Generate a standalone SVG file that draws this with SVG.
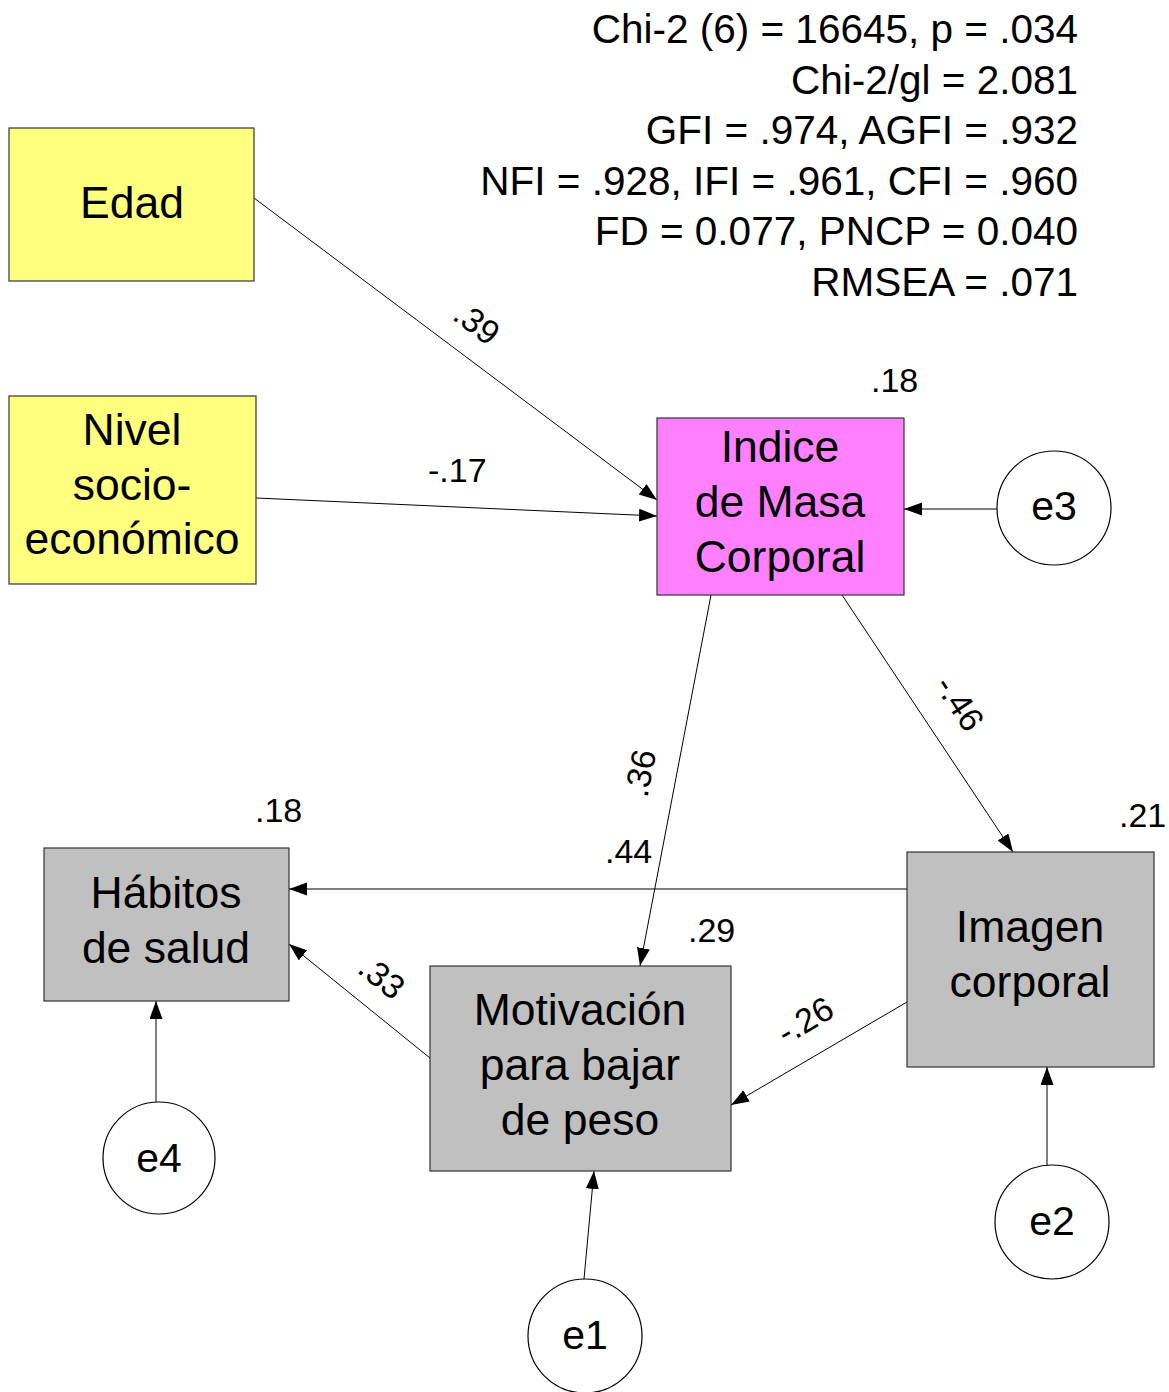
<svg xmlns="http://www.w3.org/2000/svg" width="1169" height="1392" viewBox="0 0 1169 1392">
<style>
  text { font-family: "Liberation Sans", Arial, sans-serif; fill: #000; }
  .fit { font-size: 40.5px; text-anchor: end; }
  .lbl { font-size: 44.5px; text-anchor: middle; }
  .num { font-size: 34px; }
  .numc { font-size: 34px; text-anchor: middle; }
  .err { font-size: 41px; text-anchor: middle; }
  .exo { fill: #FFFF80; stroke: #333; stroke-width: 1.2; }
  .imc { fill: #FF80FF; stroke: #333; stroke-width: 1.2; }
  .endo { fill: #C0C0C0; stroke: #333; stroke-width: 1.2; }
  .errc { fill: #FFFFFF; stroke: #000; stroke-width: 1.2; }
  .conn line { stroke: #000; stroke-width: 1; fill: none; marker-end: url(#arr); }
</style>
<defs>
  <marker id="arr" markerUnits="userSpaceOnUse" markerWidth="19" markerHeight="14" refX="18" refY="6.5" orient="auto">
    <path d="M0,0 L18,6.5 L0,13 z" fill="#000"/>
  </marker>
</defs>
<rect width="1169" height="1392" fill="#FFFFFF"/>

<g id="fit-indices">
  <text class="fit" x="1078" y="43">Chi-2 (6) = 16645, p = .034</text>
  <text class="fit" x="1078" y="94">Chi-2/gl = 2.081</text>
  <text class="fit" x="1078" y="144">GFI = .974, AGFI = .932</text>
  <text class="fit" x="1078" y="195">NFI = .928, IFI = .961, CFI = .960</text>
  <text class="fit" x="1078" y="245">FD = 0.077, PNCP = 0.040</text>
  <text class="fit" x="1078" y="296">RMSEA = .071</text>
</g>

<g class="conn" id="connectors">
  <line x1="254" y1="198" x2="657" y2="500"/>
  <line x1="256" y1="498" x2="657" y2="516"/>
  <line x1="997" y1="509" x2="904" y2="509"/>
  <line x1="711" y1="595" x2="640" y2="966"/>
  <line x1="842" y1="595" x2="1013" y2="852"/>
  <line x1="907" y1="889" x2="289" y2="889"/>
  <line x1="430" y1="1058" x2="289" y2="944"/>
  <line x1="907" y1="1002" x2="731" y2="1105"/>
  <line x1="156" y1="1103" x2="156" y2="1001"/>
  <line x1="584" y1="1279" x2="594" y2="1171"/>
  <line x1="1047" y1="1165" x2="1047" y2="1067"/>
</g>

<g id="path-labels">
  <text class="numc" transform="translate(477,323) rotate(36.8)" x="0" y="12">.39</text>
  <text class="num" x="428" y="482">-.17</text>
  <text class="numc" transform="translate(640,773) rotate(-79)" x="0" y="12">.36</text>
  <text class="numc" transform="translate(960,703) rotate(56.4)" x="0" y="12">-.46</text>
  <text class="numc" transform="translate(382,977) rotate(38.8)" x="0" y="12">.33</text>
  <text class="numc" transform="translate(805,1020) rotate(-30.3)" x="0" y="12">-.26</text>
  <text class="num" x="605" y="863">.44</text>
</g>

<g id="node-edad">
  <rect class="exo" x="9" y="128" width="245" height="153"/>
  <text class="lbl" x="132" y="218">Edad</text>
</g>

<g id="node-nivel">
  <rect class="exo" x="9" y="396" width="247" height="188"/>
  <text class="lbl" x="132" y="445">Nivel</text>
  <text class="lbl" x="132" y="500">socio-</text>
  <text class="lbl" x="132" y="554">económico</text>
</g>

<g id="node-imc">
  <rect class="imc" x="657" y="418" width="247" height="177"/>
  <text class="lbl" x="780" y="462">Indice</text>
  <text class="lbl" x="780" y="517">de Masa</text>
  <text class="lbl" x="780" y="572">Corporal</text>
  <text class="num" x="871" y="392">.18</text>
</g>

<g id="node-e3">
  <circle class="errc" cx="1054" cy="508" r="57"/>
  <text class="err" x="1054" y="520">e3</text>
</g>

<g id="node-habitos">
  <rect class="endo" x="44" y="848" width="245" height="153"/>
  <text class="lbl" x="166" y="908">Hábitos</text>
  <text class="lbl" x="166" y="963">de salud</text>
  <text class="num" x="255" y="822">.18</text>
</g>

<g id="node-motivacion">
  <rect class="endo" x="430" y="966" width="301" height="205"/>
  <text class="lbl" x="580" y="1025">Motivación</text>
  <text class="lbl" x="580" y="1080">para bajar</text>
  <text class="lbl" x="580" y="1135">de peso</text>
  <text class="num" x="688" y="942">.29</text>
</g>

<g id="node-imagen">
  <rect class="endo" x="907" y="852" width="247" height="215"/>
  <text class="lbl" x="1030" y="942">Imagen</text>
  <text class="lbl" x="1030" y="997">corporal</text>
  <text class="num" x="1119" y="827">.21</text>
</g>

<g id="node-e4">
  <circle class="errc" cx="159" cy="1158" r="56"/>
  <text class="err" x="159" y="1172">e4</text>
</g>

<g id="node-e1">
  <circle class="errc" cx="585" cy="1336" r="57"/>
  <text class="err" x="585" y="1349">e1</text>
</g>

<g id="node-e2">
  <circle class="errc" cx="1052" cy="1222" r="57"/>
  <text class="err" x="1052" y="1235">e2</text>
</g>
</svg>
